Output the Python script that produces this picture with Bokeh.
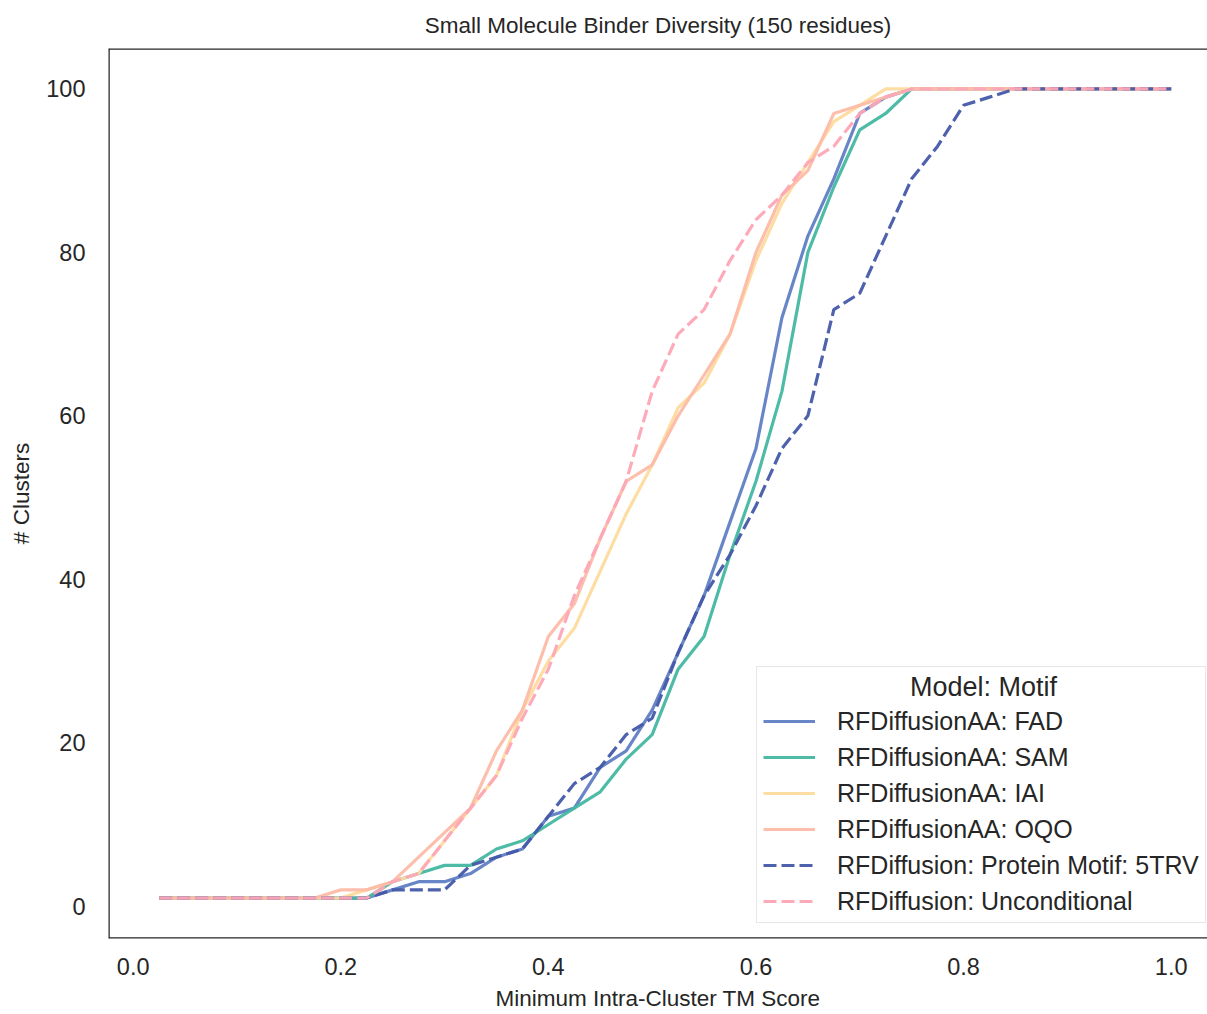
from bokeh.plotting import figure
from bokeh.models import Range1d, Legend, LegendItem, Span, Label, FixedTicker
from bokeh.embed import file_html
from bokeh.resources import INLINE

# ---- data ----
tm_score = [0.025, 0.05, 0.075, 0.1, 0.125, 0.15, 0.175, 0.2, 0.225, 0.25,
            0.275, 0.3, 0.325, 0.35, 0.375, 0.4, 0.425, 0.45, 0.475, 0.5,
            0.525, 0.55, 0.575, 0.6, 0.625, 0.65, 0.675, 0.7, 0.725, 0.75,
            0.775, 0.8, 0.825, 0.85, 0.875, 0.9, 0.925, 0.95, 0.975, 1.0]

fad = [1, 1, 1, 1, 1, 1, 1, 1, 1, 2,
       3, 3, 4, 6, 7, 11, 12, 17, 19, 24,
       31, 38, 47, 56, 72, 82, 89, 97, 99, 100,
       100, 100, 100, 100, 100, 100, 100, 100, 100, 100]
sam = [1, 1, 1, 1, 1, 1, 1, 1, 1, 3,
       4, 5, 5, 7, 8, 10, 12, 14, 18, 21,
       29, 33, 43, 52, 63, 80, 88, 95, 97, 100,
       100, 100, 100, 100, 100, 100, 100, 100, 100, 100]
iai = [1, 1, 1, 1, 1, 1, 1, 1, 2, 3,
       4, 8, 12, 16, 24, 30, 34, 41, 48, 54,
       61, 64, 70, 79, 86, 91, 96, 98, 100, 100,
       100, 100, 100, 100, 100, 100, 100, 100, 100, 100]
oqo = [1, 1, 1, 1, 1, 1, 1, 2, 2, 3,
       6, 9, 12, 19, 24, 33, 37, 45, 52, 54,
       60, 65, 70, 80, 87, 90, 97, 98, 99, 100,
       100, 100, 100, 100, 100, 100, 100, 100, 100, 100]
motif_5trv = [1, 1, 1, 1, 1, 1, 1, 1, 1, 2,
              2, 2, 5, 6, 7, 11, 15, 17, 21, 23,
              31, 38, 43, 49, 56, 60, 73, 75, 82, 89,
              93, 98, 99, 100, 100, 100, 100, 100, 100, 100]
uncond = [1, 1, 1, 1, 1, 1, 1, 1, 1, 3,
          4, 8, 12, 16, 23, 29, 38, 45, 52, 63,
          70, 73, 79, 84, 87, 91, 93, 97, 99, 100,
          100, 100, 100, 100, 100, 100, 100, 100, 100, 100]

series_names = ["RFDiffusionAA: FAD", "RFDiffusionAA: SAM", "RFDiffusionAA: IAI",
                "RFDiffusionAA: OQO", "RFDiffusion: Protein Motif: 5TRV",
                "RFDiffusion: Unconditional"]
series_values = [fad, sam, iai, oqo, motif_5trv, uncond]
series_colors = ["#6080c4", "#45b7a2", "#fedb9e", "#fdbba6", "#4558a8", "#fda6b6"]
series_dash = ["solid", "solid", "solid", "solid", "13 5", "13 5"]

x_ticks = [0.0, 0.2, 0.4, 0.6, 0.8, 1.0]
y_ticks = [0, 20, 40, 60, 80, 100]

TXT = "#262626"
FONT = "Liberation Sans"

x_start, x_end = -0.02375, 1.035
y_start, y_end = -3.95, 104.95

p = figure(width=1207, height=1013, output_backend="svg", toolbar_location=None,
           x_range=Range1d(x_start, x_end), y_range=Range1d(y_start, y_end),
           min_border_left=108, min_border_right=0, min_border_top=47,
           min_border_bottom=60)

p.title.text = "Small Molecule Binder Diversity (150 residues)"
p.title.align = "center"
p.title.text_font = FONT
p.title.text_font_size = "22.5px"
p.title.text_font_style = "normal"
p.title.text_color = TXT
p.title.standoff = 21

p.outline_line_color = None
p.xgrid.grid_line_color = None
p.ygrid.grid_line_color = None
p.background_fill_color = "white"
p.border_fill_color = "white"

for ax in (p.xaxis[0], p.yaxis[0]):
    ax.axis_line_color = None
    ax.major_tick_line_color = None
    ax.minor_tick_line_color = None
    ax.major_tick_out = 0
    ax.major_tick_in = 0
    ax.minor_tick_out = 0
    ax.major_label_text_font = FONT
    ax.major_label_text_font_size = "23.5px"
    ax.major_label_text_color = TXT
    ax.axis_label_text_font = FONT
    ax.axis_label_text_font_size = "22.5px"
    ax.axis_label_text_font_style = "normal"
    ax.axis_label_text_color = TXT

p.xaxis.ticker = FixedTicker(ticks=x_ticks)
p.yaxis.ticker = FixedTicker(ticks=y_ticks)
p.xaxis.major_label_overrides = {t: f"{t:.1f}" for t in x_ticks}
p.xaxis.axis_label = "Minimum Intra-Cluster TM Score"
p.yaxis.axis_label = "# Clusters"
p.xaxis.major_label_standoff = 19
p.xaxis.axis_label_standoff = 8
p.yaxis.major_label_standoff = 23
p.yaxis.axis_label_standoff = 9

# frame borders: left, top, bottom (right edge cut off in the reference)
for loc, dim in ((x_start, "height"), (y_start, "width"), (y_end, "width")):
    p.add_layout(Span(location=loc, dimension=dim, line_color=TXT, line_width=2.5))

items = []
for name, vals, col, dash in zip(series_names, series_values, series_colors, series_dash):
    r = p.line(tm_score, vals, line_color=col, line_width=3.2, line_dash=dash,
               line_alpha=0.95)
    items.append(LegendItem(label=name, renderers=[r]))

legend = Legend(items=items, location=(648, 15), orientation="vertical")
legend.title = "\u00a0"
legend.title_text_font_size = "27px"
legend.title_standoff = 2
legend.label_text_font = FONT
legend.label_text_font_size = "25px"
legend.label_text_color = TXT
legend.glyph_width = 52
legend.glyph_height = 30
legend.label_height = 30
legend.label_standoff = 22
legend.spacing = 6
legend.padding = 6
legend.margin = 0
legend.border_line_color = "#d0d0d0"
legend.border_line_width = 1.5
legend.background_fill_color = "white"
legend.background_fill_alpha = 0.0
p.add_layout(legend, "center")

p.add_layout(Label(x=0.8192, y=26.8, text="Model: Motif", text_align="center",
                   text_baseline="middle", text_font=FONT, text_font_size="27px",
                   text_color=TXT, level="overlay"))

open("out.html", "w").write(file_html(p, INLINE))
